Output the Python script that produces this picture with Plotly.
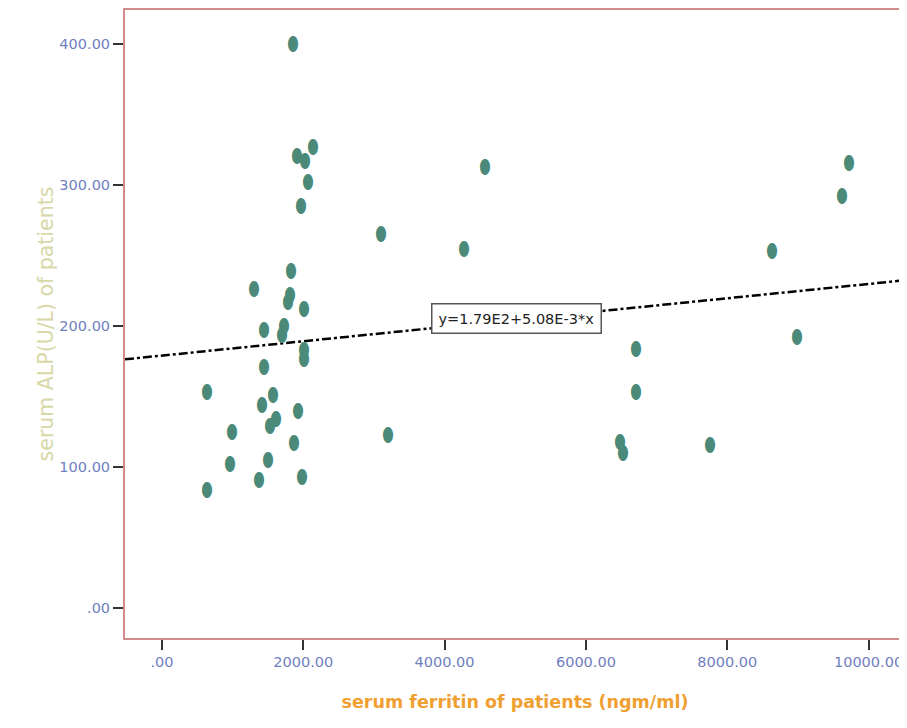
import plotly.graph_objects as go

ferritin = [1852, 1908, 2021, 2134, 2064, 1965, 4565, 3095, 4268, 9724, 9625, 8636,
            8989, 6714, 6714, 6488, 6530, 7760, 3194,
            1833, 1300, 1809, 1790, 2012, 1446, 1734, 1705, 2012, 2012, 1446, 641,
            1578, 1418, 1932, 1611, 1526, 985, 1866, 1503, 961, 1979, 1376, 632]
alp = [399, 320, 316, 326, 301, 284, 312, 264, 254, 315, 291, 252,
       191, 183, 152, 117, 109, 115, 122,
       238, 225, 221, 216, 211, 196, 199, 193, 182, 176, 170, 152,
       150, 143, 139, 133, 128, 124, 116, 104, 101, 92, 90, 83]

intercept = 179.0
slope = 5.08e-3
fit_label = "y=1.79E2+5.08E-3*x"

x_ticks = [0, 2000, 4000, 6000, 8000, 10000]
x_ticktext = [".00", "2000.00", "4000.00", "6000.00", "8000.00", "10000.00"]
y_ticks = [0, 100, 200, 300, 400]
y_ticktext = [".00", "100.00", "200.00", "300.00", "400.00"]

x_range = [-523, 10516]
y_range = [-21.3, 424.1]

FONT = "DejaVu Sans"

fig = go.Figure()

fit_x = [x_range[0], x_range[1]]
fit_y = [intercept + slope * v for v in fit_x]
fig.add_trace(go.Scatter(x=fit_x, y=fit_y, mode="lines",
                         line=dict(color="black", width=2.5, dash="dashdot"),
                         hoverinfo="skip", showlegend=False))

fig.add_trace(go.Scatter(x=ferritin, y=alp, mode="text", text=["⬮"] * len(alp),
                         textposition="middle center",
                         textfont=dict(family=FONT, size=19, color="#4b8a78"),
                         showlegend=False))

fig.add_annotation(x=5018, y=205, text=fit_label, showarrow=False,
                   font=dict(family=FONT, size=14.5, color="#222222"),
                   bgcolor="white", bordercolor="#555555", borderwidth=1.5, borderpad=6)

axis_common = dict(showgrid=False, zeroline=False, showline=True, mirror=True,
                   linecolor="#d48a8a", linewidth=2, ticks="outside", ticklen=10,
                   tickcolor="#333333", tickwidth=2,
                   tickfont=dict(family=FONT, size=14.5, color="#7080c0"))

fig.update_xaxes(range=x_range, tickvals=x_ticks, ticktext=x_ticktext,
                 title=dict(text="<b>serum ferritin of patients (ngm/ml)</b>",
                            font=dict(family=FONT, size=17.5, color="#f0a030"),
                            standoff=26),
                 **axis_common)
fig.update_yaxes(range=y_range, tickvals=y_ticks, ticktext=y_ticktext,
                 title=dict(text="serum ALP(U/L) of patients",
                            font=dict(family=FONT, size=20.5, color="#d8d8a8"),
                            standoff=0),
                 **axis_common)

fig.update_layout(width=899, height=720, margin=dict(l=117, r=0, t=2, b=90),
                  plot_bgcolor="white", paper_bgcolor="white")

fig.write_html("out.html")
